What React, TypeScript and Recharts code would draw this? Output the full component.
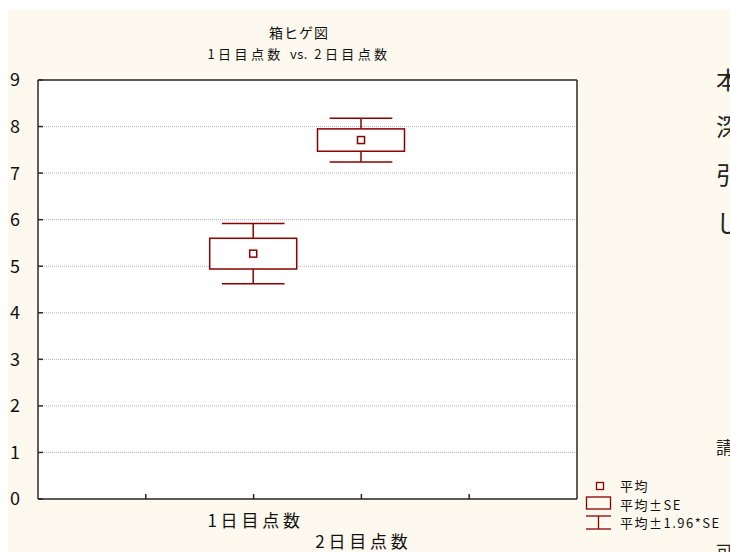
import React from 'react';
import { ComposedChart, Bar, Scatter, XAxis, YAxis, CartesianGrid } from 'recharts';

const FONT = '"Noto Sans CJK JP", "Noto Sans", sans-serif';
const RED = '#8b0000';
const CREAM = '#fdf9ee';
const FRAME = '#2a2a2a';

// 箱ヒゲ図: 平均, 平均±SE, 平均±1.96*SE
const categories = ['1日目点数', '2日目点数'];
const categoryX = [2, 3];
const means = [5.27, 7.71];
const stdErrors = [0.33, 0.24];
const xTicks = [1, 2, 3, 4];
const yTicks = [0, 1, 2, 3, 4, 5, 6, 7, 8, 9];

const data = categories.map((name, i) => {
  const ciLo = means[i] - 1.96 * stdErrors[i];
  const ciHi = means[i] + 1.96 * stdErrors[i];
  return {
    name,
    x: categoryX[i],
    mean: means[i],
    seLo: means[i] - stdErrors[i],
    seHi: means[i] + stdErrors[i],
    ciLo,
    ciHi,
    range: [ciLo, ciHi],
  };
});

// the bar covers the whisker span; box and mean are placed inside it linearly
const BoxShape = (props: any) => {
  const { x, width, payload } = props;
  let { y, height } = props;
  if (height < 0) {
    y += height;
    height = -height;
  }
  const span = payload.ciHi - payload.ciLo;
  const toPx = (v: number) => y + ((payload.ciHi - v) / span) * height;
  const cx = x + width / 2;
  const capHalf = width * 0.36;
  const top = toPx(payload.seHi);
  const bottom = toPx(payload.seLo);
  const m = toPx(payload.mean);
  return (
    <g stroke={RED} strokeWidth={1.5} fill="none">
      <line x1={cx - capHalf} x2={cx + capHalf} y1={y} y2={y} />
      <line x1={cx} x2={cx} y1={y} y2={top} />
      <line x1={cx} x2={cx} y1={bottom} y2={y + height} />
      <line x1={cx - capHalf} x2={cx + capHalf} y1={y + height} y2={y + height} />
      <rect x={x} y={top} width={width} height={bottom - top} fill="#fff" />
      <rect x={cx - 3.5} y={m - 3.5} width={7} height={7} fill="#fff" />
    </g>
  );
};

const renderValueTick = (props: any) => {
  const { x, y, payload } = props;
  return (
    <text x={x - 20} y={y} dy="0.36em" textAnchor="start" fontSize={18} fill="#111" fontFamily={FONT}>
      {payload.value}
    </text>
  );
};

const renderCategoryTick = (props: any) => {
  const { x, y, payload } = props;
  const i = categoryX.indexOf(payload.value);
  if (i < 0) return <g />;
  return (
    <text x={x + 2} y={y} dy={28 + i * 21} textAnchor="middle" fontSize={17} letterSpacing={3.8} fill="#111" fontFamily={FONT}>
      {categories[i]}
    </text>
  );
};

const sideText = [
  { ch: '本', top: 57, size: 24 },
  { ch: '深', top: 104, size: 24 },
  { ch: '引', top: 152, size: 24 },
  { ch: 'し', top: 200, size: 24 },
  { ch: '請', top: 428, size: 17 },
  { ch: '可', top: 532, size: 17 },
];

function LegendBox() {
  const row = { position: 'absolute' as const, left: 612, fontSize: 13, letterSpacing: 1.5, color: '#111', whiteSpace: 'nowrap' as const, lineHeight: '14px' };
  return (
    <>
      <svg style={{ position: 'absolute', left: 576, top: 470 }} width={30} height={52}>
        <g stroke={RED} strokeWidth={1.3} fill="none">
          <rect x={12.5} y={2.5} width={7} height={7} />
          <rect x={2.5} y={17} width={24} height={12} />
          <line x1={2} x2={27} y1={36} y2={36} />
          <line x1={14.5} x2={14.5} y1={36} y2={49} />
          <line x1={2} x2={27} y1={49} y2={49} />
        </g>
      </svg>
      <div style={{ ...row, top: 469 }}>平均</div>
      <div style={{ ...row, top: 488 }}>平均±SE</div>
      <div style={{ ...row, top: 506 }}>平均±1.96*SE</div>
    </>
  );
}

export default function App() {
  return (
    <>
      <style>{'body{margin:0}'}</style>
      <div style={{ position: 'relative', width: 730, height: 552, background: '#fff', overflow: 'hidden', fontFamily: FONT }}>
        <div style={{ position: 'absolute', left: 8, top: 10, width: 722, height: 542, background: CREAM }}>
          <ComposedChart width={722} height={542} data={data} margin={{ top: 69, right: 152, bottom: 0, left: 0 }}>
            <CartesianGrid vertical={false} fill="#fff" stroke="#b4b4b4" strokeDasharray="1 1" />
            <XAxis dataKey="x" type="number" domain={[0, 5]} ticks={xTicks} interval={0} height={53}
              tickSize={-5} tickMargin={5} tick={renderCategoryTick} stroke={FRAME} strokeWidth={1.5} allowDataOverflow />
            <XAxis xAxisId="top" dataKey="x" orientation="top" type="number" domain={[0, 5]} ticks={xTicks} interval={0}
              height={1} tickSize={-5} tick={false} stroke={FRAME} strokeWidth={1.5} allowDataOverflow />
            <YAxis type="number" domain={[0, 9]} ticks={yTicks} interval={0} width={30}
              tickSize={-5} tickMargin={13} tick={renderValueTick} stroke={FRAME} strokeWidth={1.5} allowDataOverflow />
            <YAxis yAxisId="right" orientation="right" type="number" domain={[0, 9]} ticks={yTicks} interval={0}
              width={1} tickSize={-5} tick={false} stroke={FRAME} strokeWidth={1.5} allowDataOverflow />
            <Bar dataKey="range" barSize={87} shape={BoxShape} isAnimationActive={false} />
            {/* invisible series so the frame axes (top / right) get drawn */}
            <Scatter xAxisId="top" yAxisId="right" dataKey="mean" shape={() => <g />} isAnimationActive={false} />
          </ComposedChart>

          <div style={{ position: 'absolute', left: 1, width: 580, top: 11, textAlign: 'center', color: '#111', lineHeight: '22px' }}>
            <div style={{ fontSize: 14, letterSpacing: 1 }}>箱ヒゲ図</div>
            <div style={{ fontSize: 13, letterSpacing: 3.4 }}>
              1日目点数 <span style={{ letterSpacing: 0.5 }}>vs.</span> 2日目点数
            </div>
          </div>

          <LegendBox />

          {sideText.map((s) => (
            <div key={s.ch} style={{ position: 'absolute', left: 708, top: s.top, fontSize: s.size, lineHeight: 1, color: '#222' }}>
              {s.ch}
            </div>
          ))}
        </div>
      </div>
    </>
  );
}
